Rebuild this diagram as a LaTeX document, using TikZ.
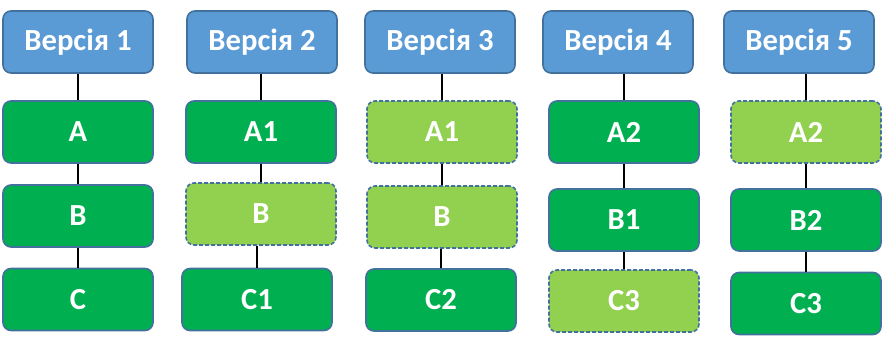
\documentclass[tikz,border=0pt]{standalone}
\usepackage{fontspec}
\setmainfont{Carlito}
\usetikzlibrary{positioning}
\definecolor{hdr}{HTML}{5B9BD5}
\definecolor{edge}{HTML}{41719C}
\definecolor{keep}{HTML}{00B050}
\definecolor{reuse}{HTML}{92D050}

\begin{document}
\begin{tikzpicture}[x=0.75pt, y=-0.75pt,
  font=\bfseries\fontsize{23}{27}\selectfont,
  box/.style={draw=edge, line width=1.2pt, rounded corners=6pt, text=white,
              minimum width=112.5pt, minimum height=46.5pt, inner sep=0pt},
  ver/.style={box, fill=hdr},
  new/.style={box, fill=keep},
  old/.style={box, fill=reuse, dash pattern=on 3pt off 1.5pt},
  link/.style={line width=2.2pt, black}
]
  \useasboundingbox (0,0) rectangle (886,343);

  \node[ver] (v1) at (78,42) {Версія 1};
  \node[ver] (v2) at (262,42) {Версія 2};
  \node[ver] (v3) at (440,42) {Версія 3};
  \node[ver] (v4) at (618,42) {Версія 4};
  \node[ver] (v5) at (799,42) {Версія 5};

  \node[new] (a1) at (78,132) {A};
  \node[new] (b1) at (78,216) {B};
  \node[new] (c1) at (78,299.5) {C};

  \node[new] (a2) at (261,132) {A1};
  \node[old] (b2) at (261,214) {B};
  \node[new] (c2) at (257,299.5) {C1};

  \node[old] (a3) at (442,132) {A1};
  \node[old] (b3) at (442,217) {B};
  \node[new] (c3) at (441,300) {C2};

  \node[new] (a4) at (624,132) {A2};
  \node[new] (b4) at (624,220) {B1};
  \node[old] (c4) at (624,301) {C3};

  \node[old] (a5) at (806,132) {A2};
  \node[new] (b5) at (806,220) {B2};
  \node[new] (c5) at (806,303.5) {C3};

  \foreach \i in {1,...,5} {
    \draw[link] (a\i.north) -- (a\i.north |- v\i.south);
    \draw[link] (b\i.north) -- (b\i.north |- a\i.south);
    \draw[link] (c\i.north) -- (c\i.north |- b\i.south);
  }
\end{tikzpicture}
\end{document}
